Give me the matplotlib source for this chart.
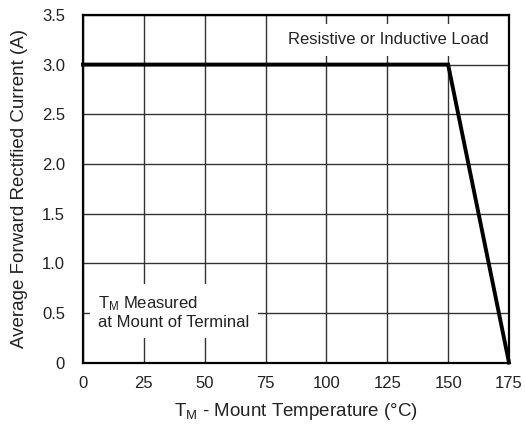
import matplotlib
matplotlib.use('Agg')
import matplotlib.pyplot as plt

plt.rcParams.update({'font.family': ['Liberation Sans', 'DejaVu Sans'], 'font.size': 12})

temp = [0, 150, 175]
current = [3.0, 3.0, 0.0]
xticks = [0, 25, 50, 75, 100, 125, 150, 175]
yticks = [0, 0.5, 1.0, 1.5, 2.0, 2.5, 3.0, 3.5]
ylabels = ['0', '0.5', '1.0', '1.5', '2.0', '2.5', '3.0', '3.5']

fig = plt.figure(figsize=(5.25, 4.26), dpi=100)
ax = fig.add_axes([0.158, 0.149, 0.8115, 0.816])
ax.set_xlim(0, 175)
ax.set_ylim(0, 3.5)
ax.set_xticks(xticks)
ax.set_yticks(yticks)
ax.set_yticklabels(ylabels)
ax.tick_params(axis='y', length=0, pad=13, colors='#222222', labelsize=12)
ax.tick_params(axis='x', length=0, pad=10, colors='#222222', labelsize=12)
ax.grid(True, color='#333333', lw=1.0)
for s in ax.spines.values():
    s.set_linewidth(1.6)
    s.set_color('black')

ax.plot(temp, current, color='black', lw=2.8, solid_joinstyle='miter', zorder=5, clip_on=False)

ax.text(0.718, 0.928, 'Resistive or Inductive Load', transform=ax.transAxes, ha='center', va='center',
        fontsize=12, color='#222222', zorder=4,
        bbox=dict(facecolor='white', edgecolor='none', pad=6))
ax.text(0.036, 0.145, '$\\mathregular{T_M}$ Measured\nat Mount of Terminal', transform=ax.transAxes,
        ha='left', va='center', fontsize=12, color='#222222', zorder=4, linespacing=1.15,
        bbox=dict(facecolor='white', edgecolor='none', pad=6))

ax.set_xlabel('$\\mathregular{T_M}$ - Mount Temperature (°C)', fontsize=13.5, color='#222222', labelpad=7)
ax.set_ylabel('Average Forward Rectified Current (A)', fontsize=13.5, color='#222222', labelpad=10)

fig.savefig('out.png', dpi=100, facecolor='white')
